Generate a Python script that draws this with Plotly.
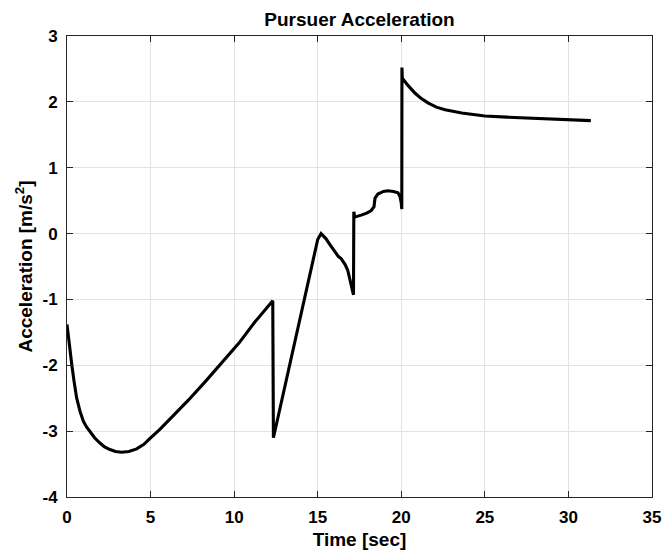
import plotly.graph_objects as go

# Time [sec] and acceleration [m/s^2]
time = [0.0, 0.03, 0.1, 0.18, 0.29, 0.42, 0.58, 0.78, 0.98, 1.18, 1.38, 1.65, 1.97, 2.25, 2.57, 2.9, 3.27,
        3.7, 4.17, 4.6, 4.97, 5.57, 6.3, 7.26, 8.3, 9.26, 10.3, 11.25, 12.31,
        12.35, 14.6, 14.84, 15.0, 15.2, 15.5, 15.74, 16.0, 16.24, 16.4, 16.64, 16.8, 16.94, 17.05, 17.14,
        17.16, 17.22, 17.6, 17.93, 18.2, 18.37, 18.4, 18.43, 18.6, 18.93, 19.2, 19.53, 19.8, 19.93, 20.0, 20.03,
        20.04, 20.06, 20.4, 20.83, 21.2, 21.62, 22.1, 22.62, 23.62, 25.0, 26.3, 27.7, 29.0, 30.0, 31.34]
accel = [-1.38, -1.45, -1.62, -1.80, -2.00, -2.24, -2.50, -2.70, -2.85, -2.94, -3.01, -3.10, -3.18, -3.24, -3.28, -3.31, -3.32,
         -3.31, -3.27, -3.20, -3.11, -2.97, -2.78, -2.53, -2.24, -1.97, -1.66, -1.34, -1.02,
         -3.10, -0.52, -0.25, -0.09, 0.00, -0.08, -0.17, -0.27, -0.35, -0.38, -0.47, -0.56, -0.70, -0.82, -0.93,
         0.33, 0.25, 0.28, 0.31, 0.35, 0.41, 0.48, 0.54, 0.60, 0.64, 0.65, 0.64, 0.62, 0.56, 0.46, 0.37,
         2.52, 2.36, 2.25, 2.13, 2.05, 1.98, 1.92, 1.88, 1.83, 1.785, 1.768, 1.752, 1.74, 1.73, 1.715]

x_ticks = [0, 5, 10, 15, 20, 25, 30, 35]
y_ticks = [-4, -3, -2, -1, 0, 1, 2, 3]

font_family = "Liberation Sans, Arial, sans-serif"
axis_color = "#262626"

fig = go.Figure()
fig.add_trace(go.Scatter(x=time, y=accel, mode="lines",
                         line=dict(color="black", width=3.1),
                         hoverinfo="skip"))

W, H = 662, 554
fig.update_layout(
    width=W, height=H,
    margin=dict(l=67, r=10, t=36, b=57, autoexpand=False),
    paper_bgcolor="white", plot_bgcolor="white",
    showlegend=False,
    title=dict(text="<b>Pursuer Acceleration</b>", x=359.5 / W, xanchor="center",
               y=1 - 19 / H, yanchor="middle", automargin=False,
               font=dict(family=font_family, size=19, color="black")),
    font=dict(family=font_family, color="black"),
)
common = dict(showgrid=True, gridcolor="#e3e3e3", gridwidth=1,
              showline=True, linecolor=axis_color, linewidth=1, mirror="ticks",
              ticks="inside", ticklen=6, tickcolor=axis_color, zeroline=False,
              automargin=False, ticklabeloverflow="allow",
              tickfont=dict(family=font_family, size=17, color="black", weight="bold"))
fig.update_xaxes(range=[0, 35], tickvals=x_ticks, ticktext=[str(v) for v in x_ticks],
                 ticklabelstandoff=5,
                 title=dict(text="<b>Time [sec]</b>", standoff=6,
                            font=dict(family=font_family, size=19, color="black")),
                 **common)
fig.update_yaxes(range=[-4, 3], tickvals=y_ticks, ticktext=[str(v) for v in y_ticks],
                 ticklabelstandoff=5,
                 title=dict(text="<b>Acceleration [m/s<sup>2</sup>]</b>", standoff=4,
                            font=dict(family=font_family, size=19, color="black")),
                 **common)

fig.write_html("out.html", config={"displayModeBar": False},
               post_script="document.body.style.margin='0';document.body.style.overflow='hidden';")
